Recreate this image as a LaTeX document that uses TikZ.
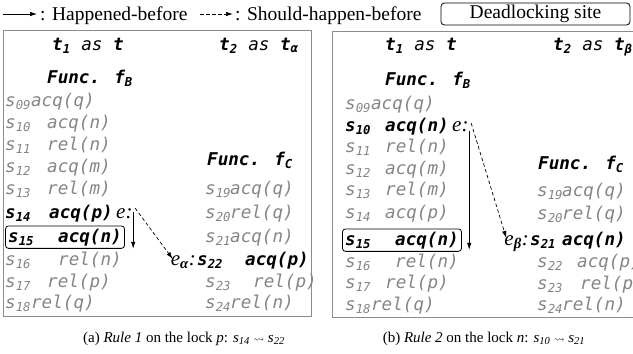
\documentclass[tikz,border=0pt]{standalone}
\usepackage{fontspec}
\usepackage{amssymb}
\setmainfont{Liberation Serif}
\newfontfamily\codefont{DejaVu Sans Mono}
\usetikzlibrary{arrows.meta,calc,fit}
\definecolor{stmtgray}{gray}{0.52}
\definecolor{framegray}{gray}{0.55}
% prefix "s_NN" in a box of given width, or at its natural width
\newcommand\pfx[2]{\makebox[#2pt][l]{s\textsubscript{#1}}}
\newcommand\pfn[1]{s\textsubscript{#1}}
\tikzset{
  stmt/.style={anchor=base west, inner sep=0pt, text=stmtgray,
    font=\codefont\itshape\fontsize{17.6}{20}\selectfont},
  hot/.style={stmt, text=black, font=\codefont\bfseries\itshape\fontsize{17.6}{20}\selectfont},
  head/.style={anchor=base west, inner sep=0pt, text=black,
    font=\codefont\itshape\fontsize{17.6}{20}\selectfont},
  evt/.style={inner sep=0pt, font=\rmfamily\itshape\fontsize{21}{23}\selectfont},
  panel/.style={draw=framegray, line width=0.8pt},
  site/.style={draw, rounded corners=3pt, line width=0.8pt, inner sep=2.5pt},
  hb/.style={-{Latex[length=7pt,width=4.5pt]}, line width=0.7pt},
  shb/.style={-{Latex[length=7pt,width=4.5pt]}, line width=0.7pt, dash pattern=on 3.5pt off 2.5pt},
  legend/.style={anchor=base west, inner sep=0pt, font=\fontsize{19.5}{21}\selectfont},
  caption/.style={anchor=base, inner sep=0pt, font=\fontsize{15}{18}\selectfont}
}
\begin{document}
\begin{tikzpicture}[x=1pt,y=-1pt]
\useasboundingbox (0,0) rectangle (633,354);

% ---- legend ----
\coordinate (l1s) at (3,14);
\coordinate (l1e) at (37,14);
\draw[hb] (l1s) -- (l1e);
\node[legend] (l1t) at (40,20) {: Happened-before};
\coordinate (l2s) at (200,14);
\coordinate (l2e) at (233,14);
\draw[shb] (l2s) -- (l2e);
\node[legend] (l2t) at (235,20) {: Should-happen-before};
\node[draw, rounded corners=3.5pt, line width=0.8pt, minimum width=189pt, minimum height=22pt,
      inner sep=0pt, font=\fontsize{19.5}{21}\selectfont] (site) at (535.5,14) {Deadlocking site};

% ================= panel (a) =================
\draw[panel] (3,30) rectangle (311,316);
\node[head] (aT1) at (52,50) {\textbf{t\textsubscript{1}} as \textbf{t}};
\node[head] (aT2) at (219,50) {\textbf{t\textsubscript{2}} as \textbf{t\textsubscript{α}}};
\node[hot] (aFB) at (47,83) {Func. f\textsubscript{B}};

\node[stmt] (a09) at (5,106) {\pfn{09}acq(q)};
\node[stmt] (a10) at (5,128) {\pfx{10}{42}acq(n)};
\node[stmt] (a11) at (5,150) {\pfx{11}{42}rel(n)};
\node[stmt] (a12) at (5,172) {\pfx{12}{42}acq(m)};
\node[stmt] (a13) at (5,194) {\pfx{13}{42}rel(m)};
\node[hot]  (a14) at (5,218) {\pfx{14}{44}acq(p)};
\node[hot]  (a15) at (8,242) {\pfx{15}{50}acq(n)};
\node[stmt] (a16) at (5,265) {\pfx{16}{53}rel(n)};
\node[stmt] (a17) at (5,287) {\pfx{17}{42}rel(p)};
\node[stmt] (a18) at (5,308) {\pfn{18}rel(q)};
\node[site, fit=(a15)] (a15box) {};

\node[hot]  (aFC) at (207,165) {Func. f\textsubscript{C}};
\node[stmt] (a19) at (205,194) {\pfx{19}{25}acq(q)};
\node[stmt] (a20) at (205,218) {\pfx{20}{25}rel(q)};
\node[stmt] (a21) at (205,242) {\pfx{21}{25}acq(n)};
\node[hot]  (a22) at (197,265) {\pfx{22}{48}acq(p)};
\node[stmt] (a23) at (205,287) {\pfx{23}{48}rel(p)};
\node[stmt] (a24) at (205,308) {\pfx{24}{25}rel(n)};

\node[evt, anchor=base west] (ae) at ($(a14.base east)+(3,0)$) {e:};
\node[evt, anchor=base east] (aea) at ($(a22.base west)+(-1,0)$) {e\textsubscript{\bfseries α}:};

\draw[hb] ($(ae.east)+(0.5,-1)$) -- ($(ae.east |- a15box.south)+(0.5,0)$);
\draw[shb] ($(ae.east)+(2.5,-5)$) -- ($(aea.north west)+(2,4)$);

\node[caption] (capa) at (184,342)
  {(a) \textit{Rule 1} on the lock \textit{p}: \textit{s}\textsubscript{\textit{14}}
   $\scriptstyle\rightsquigarrow$ \textit{s}\textsubscript{\textit{22}}};

% ================= panel (b) =================
\draw[panel] (332,31) rectangle (660,317);
\node[head] (bT1) at (385,50) {\textbf{t\textsubscript{1}} as \textbf{t}};
\node[head] (bT2) at (553,50) {\textbf{t\textsubscript{2}} as \textbf{t\textsubscript{β}}};
\node[hot] (bFB) at (385,85) {Func. f\textsubscript{B}};

\node[stmt] (b09) at (345,109) {\pfn{09}acq(q)};
\node[hot]  (b10) at (345,131) {\pfx{10}{40}acq(n)};
\node[stmt] (b11) at (345,152) {\pfx{11}{40}rel(n)};
\node[stmt] (b12) at (345,174) {\pfx{12}{40}acq(m)};
\node[stmt] (b13) at (345,195) {\pfx{13}{40}rel(m)};
\node[stmt] (b14) at (345,218) {\pfx{14}{40}acq(p)};
\node[hot]  (b15) at (345,245) {\pfx{15}{50}acq(n)};
\node[stmt] (b16) at (345,267) {\pfx{16}{50}rel(n)};
\node[stmt] (b17) at (345,288) {\pfx{17}{40}rel(p)};
\node[stmt] (b18) at (345,310) {\pfn{18}rel(q)};
\node[site, fit=(b15)] (b15box) {};

\node[hot]  (bFC) at (538,169) {Func. f\textsubscript{C}};
\node[stmt] (b19) at (537,196) {\pfx{19}{25}acq(q)};
\node[stmt] (b20) at (537,219) {\pfx{20}{25}rel(q)};
\node[hot]  (b21) at (530,245) {\pfx{21}{32}acq(n)};
\node[stmt] (b22) at (537,267) {\pfx{22}{40}acq(p)};
\node[stmt] (b23) at (537,289) {\pfx{23}{43}rel(p)};
\node[stmt] (b24) at (537,310) {\pfx{24}{25}rel(n)};

\node[evt, anchor=base west] (be) at ($(b10.base east)+(3,0)$) {e:};
\node[evt, anchor=base east] (beb) at ($(b21.base west)+(-1,0)$) {e\textsubscript{\bfseries β}:};

\draw[hb] ($(be.east)+(0.5,5)$) -- ($(be.east |- b15box.south)+(0.5,-2)$);
\draw[shb] ($(be.east)+(2.5,-3)$) -- ($(beb.north west)+(2,3)$);

\node[caption] (capb) at (484,342)
  {(b) \textit{Rule 2} on the lock \textit{n}: \textit{s}\textsubscript{\textit{10}}
   $\scriptstyle\rightsquigarrow$ \textit{s}\textsubscript{\textit{21}}};
\end{tikzpicture}
\end{document}
